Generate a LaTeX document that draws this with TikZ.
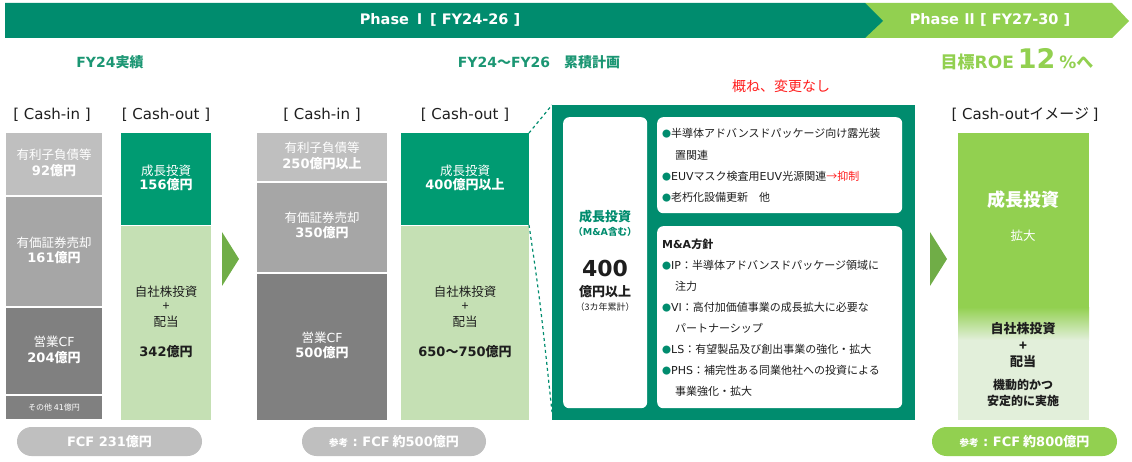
\documentclass[tikz,border=0pt]{standalone}
\usepackage{fontspec}
\setmainfont{Noto Sans CJK JP}
\newfontfamily\dv{DejaVu Sans}
\usetikzlibrary{calc}
\definecolor{dkg}{RGB}{0,140,110}
\definecolor{midg}{RGB}{0,155,114}
\definecolor{ttlg}{RGB}{27,150,115}
\definecolor{ltg}{RGB}{146,208,80}
\definecolor{arrg}{RGB}{112,173,71}
\definecolor{paleg}{RGB}{197,224,180}
\definecolor{faintg}{RGB}{226,239,218}
\definecolor{g1}{RGB}{191,191,191}
\definecolor{g2}{RGB}{166,166,166}
\definecolor{g3}{RGB}{128,128,128}
\definecolor{redt}{RGB}{255,30,30}
\definecolor{txt}{RGB}{30,30,30}
\tikzset{
  seg/.style={draw=none, inner sep=0pt, outer sep=0pt, anchor=north west},
  wt/.style={text=white, inner sep=0pt, font=\fontsize{12.5}{14}\selectfont},
  wtb/.style={text=white, inner sep=0pt, font=\fontsize{13}{14}\selectfont\bfseries},
  bt/.style={text=txt, inner sep=0pt, font=\fontsize{12.5}{14}\selectfont},
  btb/.style={text=txt, inner sep=0pt, font=\fontsize{13}{14}\selectfont\bfseries},
  hdr/.style={text=txt, inner sep=0pt, font=\fontsize{15}{17}\selectfont},
  ttl/.style={text=ttlg, inner sep=0pt, font=\fontsize{14}{16}\selectfont\bfseries},
  pill/.style={rounded corners=14.5pt, draw=none, inner sep=0pt, minimum height=29pt, text=white, font=\fontsize{13}{14}\selectfont\bfseries},
  ln/.style={text=txt, inner sep=0pt, anchor=west, font=\fontsize{11}{13}\selectfont},
  wbox/.style={fill=white, draw=none, rounded corners=6pt, inner sep=0pt, anchor=north west},
  tri/.style={fill=arrg, draw=none},
  dsh/.style={draw=dkg, dashed, line width=1.2pt},
}
\newcommand{\bul}{{\color{dkg}\fontsize{9}{11}\selectfont●}}
\newcommand{\sank}{{\fontsize{9.5}{11}\selectfont 参考}{\dv\ :\ }}
\begin{document}
\begin{tikzpicture}[x=1pt,y=-1pt]
\useasboundingbox (0,0) rectangle (1132,462);
% banner
\fill[ltg] (865,3) -- (1112,3) -- (1129,21) -- (1112,38) -- (865,38) -- cycle;
\fill[dkg] (5,3) -- (865,3) -- (883,21) -- (865,38) -- (5,38) -- cycle;
\node[text=white, inner sep=0pt, font=\fontsize{14.5}{16}\selectfont\bfseries] (ph1) at (440,20) {{\dv Phase} Ⅰ {\dv [ FY24-26 ]}};
\node[text=white, inner sep=0pt, font=\fontsize{14.5}{16}\selectfont\bfseries] (ph2) at (990,20) {{\dv Phase} Ⅱ {\dv [ FY27-30 ]}};
% titles
\node[ttl] (t1) at (110,62) {{\dv FY24}実績};
\node[ttl] (t2) at (539,62) {{\dv FY24}～{\dv FY26}\quad 累積計画};
\node[text=ltg, inner sep=0pt, font=\fontsize{17}{19}\selectfont\bfseries, anchor=base] (t3) at (1017,69) {目標{\dv ROE} {\dv\fontsize{27}{29}\selectfont 12} {\dv\%}へ};
\node[text=redt, inner sep=0pt, font=\fontsize{14}{16}\selectfont] (t4) at (781,86) {概ね、変更なし};
% headers
\node[hdr] (h1) at (52,115) {\dv [ Cash-in ]};
\node[hdr] (h2) at (166,115) {\dv [ Cash-out ]};
\node[hdr] (h3) at (322,115) {\dv [ Cash-in ]};
\node[hdr] (h4) at (465,115) {\dv [ Cash-out ]};
\node[hdr] (h5) at (1025,115) {{\dv [ Cash-out}イメージ {\dv ]}};
% column 1
\node[seg, fill=g1, minimum width=96pt, minimum height=62pt] (c1a) at (6,133) {};
\node[seg, fill=g2, minimum width=96pt, minimum height=109pt] (c1b) at (6,197) {};
\node[seg, fill=g3, minimum width=96pt, minimum height=86pt] (c1c) at (6,308) {};
\node[seg, fill=g3, minimum width=96pt, minimum height=23pt] (c1d) at (6,396) {};
\node[wt] (a1) at (54,155) {有利子負債等};
\node[wtb] (a2) at (54,171) {{\dv 92}億円};
\node[wt] (a3) at (54,243) {有価証券売却};
\node[wtb] (a4) at (54,258) {{\dv 161}億円};
\node[wt] (a5) at (54,342) {営業{\dv CF}};
\node[wtb] (a6) at (54,358) {{\dv 204}億円};
\node[text=white, inner sep=0pt, font=\fontsize{8}{9}\selectfont] (a7) at (54,407) {その他 {\dv 41}億円};
% column 2
\node[seg, fill=midg, minimum width=90pt, minimum height=92pt] (c2a) at (121,133) {};
\node[seg, fill=paleg, minimum width=90pt, minimum height=194pt] (c2b) at (121,226) {};
\node[wt] (b1) at (166,171) {成長投資};
\node[wtb] (b2) at (166,185) {{\dv 156}億円};
\node[bt] (b3) at (166,292) {自社株投資};
\node[bt] (b4) at (166,307) {+};
\node[bt] (b5) at (166,322) {配当};
\node[btb] (b6) at (166,352) {{\dv 342}億円};
% arrow 1
\fill[tri] (222,232) -- (239,259) -- (222,286) -- cycle;
\node[pill, fill=g1, minimum width=185pt] (p1) at (109.5,441.5) {{\dv FCF 231}億円};
% column 3
\node[seg, fill=g1, minimum width=130pt, minimum height=48pt] (c3a) at (257,133) {};
\node[seg, fill=g2, minimum width=130pt, minimum height=89pt] (c3b) at (257,183) {};
\node[seg, fill=g3, minimum width=130pt, minimum height=146pt] (c3c) at (257,274) {};
\node[wt] (d1) at (322,148) {有利子負債等};
\node[wtb] (d2) at (322,164) {{\dv 250}億円以上};
\node[wt] (d3) at (322,218) {有価証券売却};
\node[wtb] (d4) at (322,233) {{\dv 350}億円};
\node[wt] (d5) at (322,338) {営業{\dv CF}};
\node[wtb] (d6) at (322,353) {{\dv 500}億円};
% column 4
\node[seg, fill=midg, minimum width=128pt, minimum height=92pt] (c4a) at (401,133) {};
\node[seg, fill=paleg, minimum width=128pt, minimum height=194pt] (c4b) at (401,226) {};
\node[wt] (e1) at (465,171) {成長投資};
\node[wtb] (e2) at (465,185) {{\dv 400}億円以上};
\node[bt] (e3) at (465,292) {自社株投資};
\node[bt] (e4) at (465,307) {+};
\node[bt] (e5) at (465,322) {配当};
\node[btb] (e6) at (465,352) {{\dv 650}～{\dv 750}億円};
\node[pill, fill=g1, minimum width=184pt] (p2) at (394,441.5) {\sank{\dv FCF} 約{\dv 500}億円};
% big green box
\node[seg, fill=dkg, minimum width=363pt, minimum height=315pt] (gb) at (552,105) {};
\draw[dsh] (c4a.north east) -- (gb.north west);
\draw[dsh] (c4a.south east) .. controls (540,300) .. ($(gb.south west)+(0,-8)$);
\node[wbox, minimum width=84pt, minimum height=291pt] (wl) at (563,117) {};
\node[wbox, minimum width=245pt, minimum height=96pt] (wr1) at (657,117) {};
\node[wbox, minimum width=245pt, minimum height=182pt] (wr2) at (657,226) {};
\node[text=dkg, inner sep=0pt, font=\fontsize{13}{15}\selectfont\bfseries] (f1) at (605,217) {成長投資};
\node[text=dkg, inner sep=0pt, font=\fontsize{9.5}{10}\selectfont\bfseries] (f2) at (605,232) {（{\dv M\&A}含む）};
\node[text=txt, inner sep=0pt, font=\fontsize{22}{24}\selectfont\bfseries] (f3) at (605,268) {\dv 400};
\node[text=txt, inner sep=0pt, font=\fontsize{13}{15}\selectfont\bfseries] (f4) at (605,292) {億円以上};
\node[text=txt, inner sep=0pt, font=\fontsize{9}{10}\selectfont] (f5) at (605,307) {（3カ年累計）};
\node[ln] (g1) at (662,133) {\bul 半導体アドバンスドパッケージ向け露光装};
\node[ln] (g2) at (675,155) {置関連};
\node[ln] (g3) at (662,176) {\bul {\dv EUV}マスク検査用{\dv EUV}光源関連{\color{redt}→抑制}};
\node[ln] (g4) at (662,197) {\bul 老朽化設備更新　他};
\node[ln, font=\fontsize{11}{13}\selectfont\bfseries] (k0) at (662,244) {{\dv M\&A}方針};
\node[ln] (k1) at (662,265) {\bul {\dv IP}：半導体アドバンスドパッケージ領域に};
\node[ln] (k2) at (675,286) {注力};
\node[ln] (k3) at (662,307) {\bul {\dv VI}：高付加価値事業の成長拡大に必要な};
\node[ln] (k4) at (675,328) {パートナーシップ};
\node[ln] (k5) at (662,349) {\bul {\dv LS}：有望製品及び創出事業の強化・拡大};
\node[ln] (k6) at (662,370) {\bul {\dv PHS}：補完性ある同業他社への投資による};
\node[ln] (k7) at (675,391) {事業強化・拡大};
% arrow 2
\fill[tri] (930,232) -- (947,259) -- (930,286) -- cycle;
% right column
\node[seg, fill=ltg, minimum width=131pt, minimum height=175pt] (r1) at (958,133) {};
\node[seg, top color=ltg, bottom color=faintg, minimum width=131pt, minimum height=33pt] (r2) at (958,307) {};
\node[seg, fill=faintg, minimum width=131pt, minimum height=80pt] (r3) at (958,340) {};
\node[text=white, inner sep=0pt, font=\fontsize{18}{20}\selectfont\bfseries] (s1) at (1023,200) {成長投資};
\node[wt] (s2) at (1023,236) {拡大};
\node[btb] (s3) at (1023,329) {自社株投資};
\node[btb] (s4) at (1023,346) {+};
\node[btb] (s5) at (1023,362) {配当};
\node[btb, font=\fontsize{12}{13}\selectfont\bfseries] (s6) at (1023,385) {機動的かつ};
\node[btb, font=\fontsize{12}{13}\selectfont\bfseries] (s7) at (1023,401) {安定的に実施};
\node[pill, fill=ltg, minimum width=185pt] (p3) at (1024.5,441.5) {\sank{\dv FCF} 約{\dv 800}億円};
\end{tikzpicture}
\end{document}
